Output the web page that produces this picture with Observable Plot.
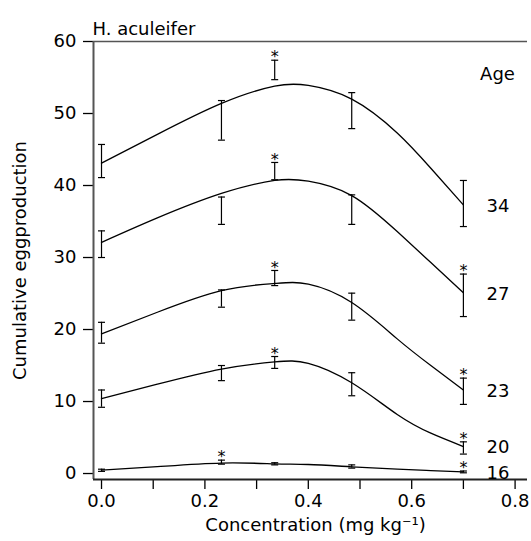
<!DOCTYPE html>
<html>
<head>
<meta charset="utf-8">
<script src="https://cdn.jsdelivr.net/npm/d3@7"></script>
<script src="https://cdn.jsdelivr.net/npm/@observablehq/plot@0.6"></script>
<style>
  html, body { margin: 0; padding: 0; background: #fff; }
</style>
</head>
<body>
<div id="chart"></div>
<script>
// ---- data ----
const title = "H. aculeifer";
const xLabel = "Concentration (mg kg\u207B\u00B9)";
const yLabel = "Cumulative eggproduction";
const legendTitle = "Age";

const ages = ["34", "27", "23", "20", "16"];
const conc = [0, 0.232, 0.335, 0.484, 0.70];

// error bars (lower / upper)
const low34 = [41.1, 46.3, 54.7, 47.9, 34.3];
const high34 = [45.7, 51.8, 57.4, 52.9, 40.7];
const low27 = [30.0, 34.6, 40.8, 34.6, 21.8];
const high27 = [33.7, 38.4, 43.2, 38.7, 27.7];
const low23 = [18.1, 23.1, 26.1, 21.3, 9.6];
const high23 = [21.0, 25.5, 28.2, 25.05, 13.25];
const low20 = [9.2, 12.9, 14.6, 10.8, 2.7];
const high20 = [11.6, 15.0, 16.25, 14.0, 4.4];
const low16 = [0.3, 1.3, 1.2, 0.75, 0.1];
const high16 = [0.6, 1.86, 1.5, 1.2, 0.35];

// fitted curves, read at these concentrations
const fitX = [0, 0.108, 0.232, 0.335, 0.40, 0.484, 0.572, 0.637, 0.70];
const fit34 = [43.1, 47.1, 51.4, 53.8, 53.9, 52.0, 47.3, 42.4, 37.3];
const fit27 = [32.1, 35.5, 38.9, 40.7, 40.6, 38.6, 33.6, 29.3, 25.1];
const fit23 = [19.4, 22.4, 25.4, 26.4, 26.3, 23.75, 18.7, 15.0, 11.6];
const fit20 = [10.4, 12.4, 14.5, 15.5, 15.3, 12.6, 8.2, 5.6, 3.75];
const fit16 = [0.47, 0.95, 1.45, 1.35, 1.25, 0.93, 0.6, 0.4, 0.24];

// significance stars
const starAges = ["34", "27", "23", "20", "16", "27", "23", "20", "16"];
const starConc = [0.335, 0.335, 0.335, 0.335, 0.232, 0.70, 0.70, 0.70, 0.70];

const xTicks = [0, 0.1, 0.2, 0.3, 0.4, 0.5, 0.6, 0.7, 0.8];
const xTickLabeled = [0, 0.2, 0.4, 0.6, 0.8];
const yTicks = [0, 10, 20, 30, 40, 50, 60];

// ---- build tables ----
const lows = {"34": low34, "27": low27, "23": low23, "20": low20, "16": low16};
const highs = {"34": high34, "27": high27, "23": high23, "20": high20, "16": high16};
const fits = {"34": fit34, "27": fit27, "23": fit23, "20": fit20, "16": fit16};

const bars = ages.flatMap(a => conc.map((c, i) => ({age: a, conc: c, low: lows[a][i], high: highs[a][i]})));
const caps = bars.flatMap(b => [{conc: b.conc, v: b.low}, {conc: b.conc, v: b.high}]);
const curves = ages.flatMap(a => fitX.map((x, i) => ({age: a, conc: x, v: fits[a][i]})));
const stars = starAges.map((a, i) => {
  const j = conc.indexOf(starConc[i]);
  return {conc: starConc[i], v: highs[a][j]};
});
const ends = ages.map(a => ({age: a, conc: fitX[fitX.length - 1], v: fits[a][fits[a].length - 1]}));

const capSymbol = {
  draw(ctx) { ctx.moveTo(-3.5, 0); ctx.lineTo(3.5, 0); }
};

const xDomain = [-0.0155, 0.824];
const yDomain = [-0.83, 60];

const chart = Plot.plot({
  width: 531,
  height: 541,
  marginLeft: 93,
  marginRight: 4,
  marginTop: 41,
  marginBottom: 62,
  style: {fontFamily: "'DejaVu Sans', sans-serif", fontSize: "18px", background: "#fff", color: "#000"},
  x: {domain: xDomain, label: null},
  y: {domain: yDomain, label: null},
  marks: [
    Plot.axisY({ticks: yTicks, tickSize: 10, tickPadding: 7, tickFormat: d => String(d), label: null, strokeWidth: 1.3}),
    Plot.axisX({ticks: xTicks, tickSize: 10, tickPadding: 5, tickFormat: d => xTickLabeled.includes(d) ? d.toFixed(1) : "", label: null, strokeWidth: 1.3}),
    Plot.ruleX([xDomain[0]], {stroke: "#555", strokeWidth: 2}),
    Plot.ruleY([yDomain[1]], {stroke: "#555", strokeWidth: 1.5}),
    Plot.ruleY([yDomain[0]], {stroke: "#222", strokeWidth: 2}),
    Plot.line(curves, {x: "conc", y: "v", z: "age", curve: "natural", stroke: "black", strokeWidth: 1.3}),
    Plot.ruleX(bars, {x: "conc", y1: "low", y2: "high", stroke: "black", strokeWidth: 1.2}),
    Plot.dot(caps, {x: "conc", y: "v", symbol: capSymbol, stroke: "black", fill: "none", strokeWidth: 1.2}),
    Plot.text(stars, {x: "conc", y: "v", text: () => "*", fontSize: 16, dy: -3, fill: "black"}),
    Plot.text(ends, {x: "conc", y: "v", text: "age", dx: 34.5, dy: 1, textAnchor: "middle", fill: "black"}),
    Plot.text([legendTitle], {frameAnchor: "top-right", dx: -30, dy: 26, textAnchor: "middle", fill: "black"}),
    Plot.text([title], {frameAnchor: "top-left", textAnchor: "start", dx: -1, dy: -19, fill: "black"}),
    Plot.text([xLabel], {frameAnchor: "bottom", dx: 5, dy: 51, fill: "black"}),
    Plot.text([yLabel], {frameAnchor: "left", textAnchor: "middle", rotate: -90, dx: -73.5, fill: "black"})
  ]
});
document.getElementById("chart").appendChild(chart);
</script>
</body>
</html>
